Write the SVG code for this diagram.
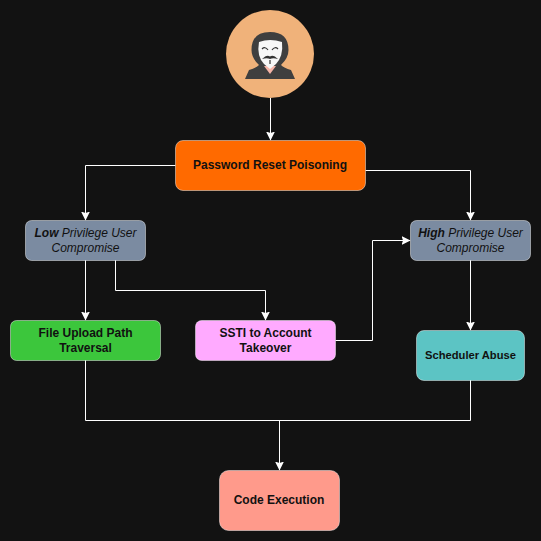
<svg xmlns="http://www.w3.org/2000/svg" width="541" height="541" viewBox="0 0 541 541">
<style>
.n{stroke:#fff;stroke-opacity:.45;stroke-width:1}
.t{font-family:"Liberation Sans",Arial,sans-serif;font-size:12px;font-weight:700;text-anchor:middle;fill:#111}
.i{font-weight:400;font-style:italic}
.b{font-weight:700}
.l{fill:none;stroke:#fff;stroke-width:1}
.c{marker-end:url(#a)}
</style>
<defs>
<marker id="a" markerUnits="userSpaceOnUse" markerWidth="10" markerHeight="10" refX="8.500" refY="4.500" orient="auto">
<path d="M0 0L9 4.500L0 9L1.500 4.500Z" fill="#fff"/>
</marker>
</defs>
<rect width="541" height="541" fill="#121212"/>
<g id="connectors">
<path class="l c" d="M270.500 98V140"/>
<path class="l c" d="M175.500 165.500H85.500V220"/>
<path class="l c" d="M365.500 170.500H470.500V220"/>
<path class="l c" d="M85.500 260V320"/>
<path class="l c" d="M115.500 260V290.500H265.500V320"/>
<path class="l c" d="M335.500 340.500H372.500V240.500H410"/>
<path class="l c" d="M470.500 260V330"/>
<path class="l" d="M85.500 360V420.500H470.500V380"/>
<path class="l c" d="M279.500 420.500V470"/>
</g>
<g id="attacker">
<circle cx="270" cy="54" r="44" fill="#f0b27a"/>
<path d="M245 79L249 70Q256 68 259 65Q251.500 58 251.500 50Q251.500 32 270 32Q288.500 32 288.500 50Q288.500 58 281 65Q284 68 291 70L295 79Z" fill="#3f3f3f"/>
<path d="M264 66L276 66L270 74Z" fill="#f6b5a8"/>
<path d="M259 42Q270 38 282 42Q283.500 56 276 64L270 69L264 64Q256.500 56 259 42Z" fill="#f7f7f7"/>
<path d="M262 49Q265 46 268 50M272 50Q275 46 278 49M270 60V64" fill="none" stroke="#333" stroke-width="1.200"/>
<path d="M262 59Q267 54 270 56.500Q273 54 278 59Q273 57.500 270 59Q267 57.500 262 59Z" fill="#333"/>
</g>
<g id="password-reset">
<rect class="n" x="175.500" y="140.500" width="190" height="50" rx="7.500" fill="#ff6a00"/>
<text class="t" x="270" y="169">Password Reset Poisoning</text>
</g>
<g id="low-privilege">
<rect class="n" x="25.500" y="220.500" width="120" height="40" rx="6" fill="#7b8ba1"/>
<text class="t i" x="85.500" y="237"><tspan class="b">Low</tspan> Privilege User</text>
<text class="t i" x="85.500" y="252">Compromise</text>
</g>
<g id="high-privilege">
<rect class="n" x="410.500" y="220.500" width="120" height="40" rx="6" fill="#7b8ba1"/>
<text class="t i" x="470.500" y="237"><tspan class="b">High</tspan> Privilege User</text>
<text class="t i" x="470.500" y="252">Compromise</text>
</g>
<g id="file-upload">
<rect class="n" x="10.500" y="320.500" width="150" height="40" rx="6" fill="#3cc63c"/>
<text class="t" x="85.500" y="337">File Upload Path</text>
<text class="t" x="85.500" y="352">Traversal</text>
</g>
<g id="ssti">
<rect class="n" x="195.500" y="320.500" width="140" height="40" rx="6" fill="#ffaaff"/>
<text class="t" x="265.500" y="337">SSTI to Account</text>
<text class="t" x="265.500" y="352">Takeover</text>
</g>
<g id="scheduler">
<rect class="n" x="416.500" y="330.500" width="108" height="50" rx="7.500" fill="#5cc4c4"/>
<text class="t" x="470.500" y="359" style="font-size:11.200px">Scheduler Abuse</text>
</g>
<g id="code-execution">
<rect class="n" x="219.500" y="470.500" width="120" height="60" rx="9" fill="#ff9a8b"/>
<text class="t" x="279" y="504">Code Execution</text>
</g>
</svg>
